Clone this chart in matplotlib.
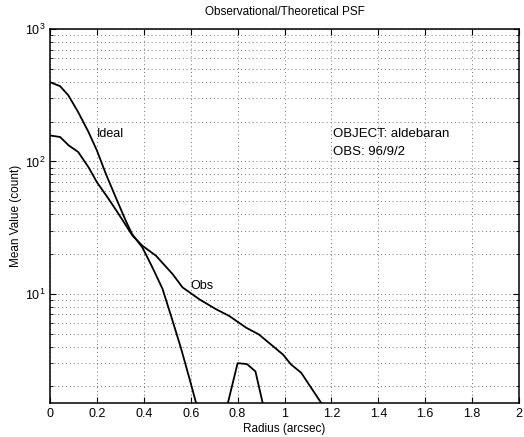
import numpy as np
import matplotlib
matplotlib.use("Agg")
import matplotlib.pyplot as plt
from matplotlib.ticker import LogLocator, MultipleLocator

plt.rcParams['font.family'] = ['Liberation Sans', 'DejaVu Sans']

# Ideal (theoretical) PSF profile
ideal_r = [0.0, 0.043, 0.078, 0.12, 0.164, 0.2, 0.238, 0.28, 0.323, 0.35, 0.394,
           0.437, 0.48, 0.523, 0.558, 0.594, 0.64, 0.74, 0.80, 0.84, 0.876, 0.92]
ideal_v = [397, 370, 316, 236, 167, 121, 80.7, 53.7, 35.7, 28.3, 22.4,
           15.8, 10.9, 6.24, 3.92, 2.32, 1.16, 1.1, 3.0, 2.95, 2.6, 1.19]

# Observed PSF profile
obs_r = [0.0, 0.043, 0.08, 0.12, 0.164, 0.2, 0.245, 0.288, 0.352, 0.394, 0.452,
         0.523, 0.565, 0.637, 0.708, 0.765, 0.836, 0.89, 0.95, 0.993, 1.028,
         1.071, 1.114, 1.2]
obs_v = [157, 153, 132, 118, 90.6, 69.7, 53.7, 41.3, 27.5, 23.1, 19.4,
         14.1, 11.2, 9.1, 7.66, 6.8, 5.56, 4.95, 4.04, 3.49, 2.93,
         2.54, 1.95, 1.15]

fig = plt.figure(figsize=(5.24, 4.37), dpi=100)
ax = fig.add_axes([50/524, 34/437, 469/524, 374/437])

ax.plot(ideal_r, ideal_v, color='black', lw=1.3)
ax.plot(obs_r, obs_v, color='black', lw=1.3)

ax.set_yscale('log')
ax.set_xlim(0, 2)
ax.set_ylim(1.5, 1000)
ax.xaxis.set_major_locator(MultipleLocator(0.2))
ax.yaxis.set_major_locator(LogLocator(base=10, numticks=10))
ax.yaxis.set_minor_locator(LogLocator(base=10, subs=np.arange(2, 10), numticks=20))
ax.yaxis.set_minor_formatter(plt.NullFormatter())
ax.xaxis.set_major_formatter(plt.FuncFormatter(lambda v, p: f"{v:g}"))

grid_kw = dict(linestyle=(0, (1, 3)), color='0.45', lw=0.7)
ax.grid(True, which='major', axis='both', **grid_kw)
ax.grid(True, which='minor', axis='y', **grid_kw)
ax.tick_params(which='both', direction='in', top=True, right=True, labelsize=9)
ax.tick_params(which='major', length=4)
ax.tick_params(which='minor', length=2)
for s in ax.spines.values():
    s.set_linewidth(1.1)

ax.set_title('Observational/Theoretical PSF', fontsize=8.5, pad=10)
ax.set_xlabel('Radius (arcsec)', fontsize=8.5, labelpad=2)
ax.set_ylabel('Mean Value (count)', fontsize=8.5, labelpad=2)

ax.text(0.2, 160, 'Ideal', fontsize=9, va='center', ha='left')
ax.text(0.6, 11.5, 'Obs', fontsize=9, va='center', ha='left')
ax.text(1.207, 160, 'OBJECT: aldebaran', fontsize=9.5, va='center', ha='left')
ax.text(1.207, 117, 'OBS: 96/9/2', fontsize=9.5, va='center', ha='left')

fig.savefig('out.png', dpi=100)
